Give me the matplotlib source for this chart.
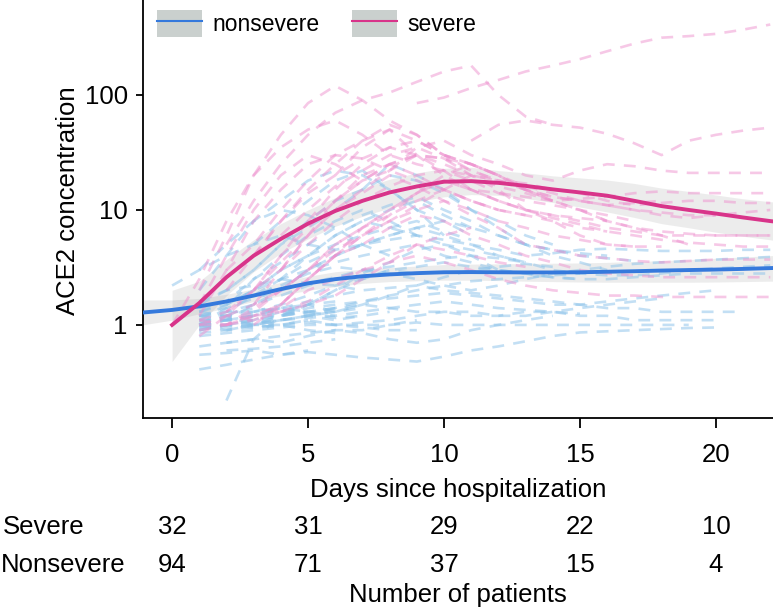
import numpy as np
import matplotlib
matplotlib.use('Agg')
import matplotlib.pyplot as plt
import matplotlib.transforms as mtransforms
from matplotlib.patches import Rectangle
from matplotlib.lines import Line2D

# individual patients: first day, then one value per day
severe_starts = [9, 2, 1, 11, 0, 1, 2, 1, 3, 1, 1, 2, 3, 1, 2, 4, 2, 1, 3, 2,
                 1, 4, 3, 5, 1, 3, 6, 2, 4]
severe_values = [
    [85, 95, 115, 135, 160, 180, 205, 240, 280, 315, 325, 340, 370, 410],
    [5, 12, 25, 45, 70, 90, 105, 130, 160, 180, 100, 65, 55],
    [2, 6, 20, 45, 85, 120, 90, 60, 45, 30, 25, 20],
    [40, 55, 60, 55, 52, 46, 38, 30, 40, 45, 49, 52],
    [1.0, 2.5, 8, 20, 35, 50, 60, 45, 30, 25, 22, 20, 18, 17, 15, 14, 12, 11, 11.5, 12, 12, 11.5, 11.5],
    [1.2, 3, 8, 15, 25, 30, 28, 22, 35, 40, 30, 25, 20, 18, 22, 25, 24, 22, 21, 21, 21, 21],
    [3, 5, 10, 18, 30, 40, 50, 30, 20, 15, 12, 10, 9, 8, 7, 6.5, 6, 6, 6, 6, 6],
    [0.8, 1.2, 2, 4, 8, 12, 18, 25, 30, 22, 15, 14, 13, 12, 12.5, 13, 14, 14.5, 14, 14, 14, 14],
    [1.5, 3, 6, 10, 15, 22, 30, 28, 20, 15, 10, 8, 6, 5, 4.8, 4.8],
    [1.0, 1.0, 1.3, 2, 3, 4.5, 6, 8, 10, 12, 9, 7, 5, 4.5, 4, 3.8, 3.6, 3.5, 3.6, 3.7, 3.7, 3.7],
    [1.1, 1.0, 1.2, 1.5, 2.5, 4, 5, 7, 9, 8, 6, 5, 4, 3.5, 3, 2.8, 2.7, 2.6, 2.6, 2.6, 2.6, 2.6],
    [1.0, 1.1, 1.4, 2, 2.5, 3, 3.5, 4, 3.5, 3, 2.5, 2.2, 2, 1.9, 1.8, 1.8, 1.75, 1.75, 1.75, 1.75, 1.75],
    [4, 8, 15, 25, 40, 55, 45, 30, 25, 20, 15, 12, 10, 8, 7, 6.5, 6.2, 6.0, 6.0, 6.0],
    [1.5, 4, 10, 20, 30, 25, 18, 25, 30, 28, 25, 20, 16, 14, 12, 11, 10, 9, 8.5, 9],
    [1.3, 2, 3, 5, 8, 12, 16, 20, 22, 18, 14, 12, 11, 10, 9, 8],
    [3, 6, 12, 20, 25, 20, 15, 12, 10, 9, 8, 7, 6.5],
    [1.0, 1.2, 1.5, 2.5, 4, 6, 9, 14, 20, 25, 20, 15, 12],
    [1.0, 1.2, 1.1, 1.3, 1.6, 2.2, 3, 4, 5, 4.5, 4, 3.5, 3.2],
    [2, 4, 7, 12, 18, 22, 18, 15, 12, 10, 9],
    [1.2, 1.5, 2, 3, 5, 7, 10, 14, 18, 15, 12, 10, 9, 8.5, 8],
    [0.9, 1.0, 1.4, 2, 3, 5, 7, 9, 12, 15, 12, 10],
    [6, 10, 16, 22, 30, 35, 28, 22, 18, 15, 13, 12, 11, 11.5, 12],
    [1.0, 1.5, 2.5, 4, 6, 8, 11, 15, 20, 18, 15],
    [8, 15, 25, 35, 30, 25, 20, 16, 14, 12],
    [1.1, 1.3, 2, 3.5, 6, 10, 14, 20, 16, 12, 10, 8, 7, 6, 5.5, 5, 4.8],
    [1.2, 1.3, 1.5, 1.8, 2.5, 3.5, 5, 6, 7],
    [20, 35, 50, 40, 30, 25, 20, 15, 12, 10, 8, 7, 6, 5],
    [2, 4, 8, 14, 20, 28, 35, 40, 30, 22, 18, 15, 13, 12, 11, 10, 9.5, 9, 9, 9.5, 10],
    [1.5, 2.5, 4, 7, 10, 14, 18, 15, 12, 10, 8.5, 7.5, 6.5, 6, 5.5, 5.2, 5, 4.8, 4.8],
]

nonsevere_starts = [2, 1, 1, 1, 1, 1, 1, 1, 1, 1, 1, 1, 0, 1, 1, 1, 1, 2, 1, 1,
                    1, 2, 1, 3, 1, 2, 1, 1, 2, 3, 1, 1, 2, 1, 4, 1, 1, 2, 1, 1,
                    1, 2, 1, 1, 2, 3, 1, 1, 1, 2]
nonsevere_values = [
    [0.22, 0.75, 1.2, 1.5, 1.3, 1.4],
    [0.41, 0.45, 0.5, 0.55, 0.6],
    [0.55, 0.57, 0.6, 0.55, 0.58, 0.55, 0.52, 0.5, 0.48, 0.53, 0.6, 0.65, 0.72, 0.8, 0.86, 0.88, 0.9, 0.92, 0.94, 0.95],
    [0.65, 0.7, 0.75, 0.7, 0.8, 0.9, 0.85, 0.75, 0.7, 0.75, 0.9, 1.0, 1.1, 1.2],
    [0.9, 1.0, 0.95, 1.0, 1.05, 1.0, 1.0, 1.0, 1.05, 1.0, 1.0, 1.0, 1.0, 1.0, 1.0, 1.0, 1.0, 1.0, 1.0],
    [1.0, 1.1, 1.2, 1.3, 1.2, 1.4, 1.5, 1.4, 1.3, 1.3, 1.2, 1.2, 1.3, 1.3, 1.2, 1.2, 1.1, 1.1, 1.1, 1.1],
    [1.2, 1.3, 1.5, 1.8, 2.2, 2.5, 3, 2.8, 2.5, 2.2, 2, 2.2, 2.5, 2.8, 3, 3.2, 3.4, 3.5, 3.6, 3.7, 3.8, 3.9],
    [1.3, 1.5, 2, 2.5, 3, 3.5, 4, 4.5, 5, 4, 3.5, 3, 2.8, 2.6, 2.5, 2.5, 2.6, 2.7, 2.8, 2.8, 2.8, 2.8],
    [1.0, 1.1, 1.5, 2, 3, 4, 5, 6, 7, 6, 5, 4.5, 4, 4.2, 4.5, 4.6, 4.5, 4.4, 4.4, 4.4, 4.5, 4.5],
    [0.9, 1.0, 1.1, 1.2, 1.4, 1.5, 1.6, 1.7, 1.8, 1.9, 1.8, 1.7, 1.6, 1.5, 1.5, 1.4, 1.4, 1.3, 1.3, 1.3, 1.3],
    [1.5, 2, 3, 5, 8, 12, 15, 20, 18, 14, 10, 8, 6, 5],
    [2, 4, 8, 12, 18, 22, 20, 15, 10, 8, 6],
    [2.2, 3, 4, 5, 6, 5, 4.5],
    [1.0, 1.0, 1.1, 1.0, 1.1],
    [1.1, 1.2, 1.1, 1.2, 1.3, 1.3],
    [0.95, 1.0, 1.05, 1.1, 1.2, 1.3, 1.5],
    [1.0, 0.9, 1.0, 1.2, 1.5, 2, 2.5, 3, 2.8],
    [1.0, 1.1, 1.3, 1.5, 2, 2.8, 3.5, 4.5, 5, 4.5, 4, 3.5],
    [1.2, 1.2, 1.4, 1.3, 1.5, 1.6],
    [1.4, 1.6, 1.8, 2.2, 2.8, 3.2, 3],
    [0.8, 0.85, 0.9, 0.95, 1.0, 1.0, 0.95, 0.9, 0.9],
    [1.2, 1.5, 2.5, 4, 6, 8, 10, 12, 9, 7],
    [1.6, 2, 2.2, 2.5, 2.3, 2.2, 2.0],
    [1.3, 1.5, 1.8, 2.2, 2.5, 3, 3.2, 3.5, 3.2, 3, 2.8, 2.6, 2.5],
    [1.0, 1.2, 1.0, 1.1, 1.2, 1.1, 1.2],
    [0.9, 1.0, 1.0, 1.1, 1.0, 1.05, 1.1, 1.2, 1.3, 1.3, 1.2, 1.2, 1.3, 1.4, 1.5, 1.6, 1.7],
    [1.3, 1.2, 1.3, 1.4, 1.3],
    [3, 5, 8, 10, 9, 7, 5, 4],
    [2, 3, 5, 7, 10, 15, 25, 20, 15, 10, 7, 5, 4, 3.5, 3],
    [5, 8, 12, 18, 22, 15, 10, 6],
    [1.0, 1.3, 1.8, 2.5, 3.5, 4.5, 5, 5.5, 6, 5.5, 5, 4, 3.5, 3, 2.8, 2.7, 2.7, 2.8, 3, 3.1, 3.2, 3.3],
    [1.1, 1.1, 1.2, 1.2, 1.3, 1.4, 1.6, 1.8, 2, 2.2, 2.4, 2.5, 2.6, 2.7, 2.8],
    [0.7, 0.75, 0.8, 0.85, 0.9, 0.9, 1.0, 1.1],
    [0.85, 0.9, 0.95, 1.0, 0.9, 0.85],
    [2, 3, 4, 5, 6, 7, 8, 7, 6, 5, 4.5, 4, 3.8, 3.6],
    [1.2, 1.4, 1.7, 2, 2.3, 2.6, 3, 3.2, 3.5, 3.8, 4, 3.8, 3.5],
    [1.0, 1.0, 1.2, 1.4, 1.6, 1.8, 2, 2.1, 2.2, 2.0, 1.9, 1.8, 1.7, 1.6, 1.5, 1.6, 1.7, 1.8, 1.9, 2.0],
    [1.5, 2, 3, 4, 6, 8, 7, 6],
    [1.05, 1.15, 1.25, 1.35, 1.25, 1.15, 1.2, 1.3],
    [0.95, 0.95, 1.0, 1.1, 1.15, 1.2, 1.3, 1.4, 1.5, 1.6, 1.5, 1.4, 1.35, 1.3, 1.25],
    [1.3, 1.6, 2.5, 3.5, 5, 7, 9, 11, 13, 10, 8, 6, 5, 4.5, 4.2, 4],
    [1.1, 1.2, 1.4, 1.3, 1.2],
    [1.0, 1.1, 1.0, 0.95],
    [1.2, 1.1, 1.2],
    [1.3, 1.3, 1.4, 1.5],
    [1.0, 1.1, 1.2, 1.3, 1.5, 1.8, 2.2, 2.6, 3, 3.2, 3.4, 3.2],
    [1.1, 1.5, 2, 3, 4, 5, 6, 7, 8, 6.5, 5.5],
    [0.9, 1.0, 1.0, 1.2, 1.3, 1.4],
    [1.0, 1.4, 2.5, 4, 6, 8, 10, 8, 6, 5, 4, 3],
    [0.6, 0.62, 0.65, 0.7, 0.75],
]

# smoothed group curves with their confidence bands
blue_days = [-1.1, 0, 1, 2, 3, 4, 5, 6, 7, 8, 9, 10, 11, 12, 13, 14, 15, 16, 17, 18, 19, 20, 21, 22, 22.2]
blue_fit = [1.28, 1.35, 1.45, 1.6, 1.8, 2.05, 2.3, 2.5, 2.65, 2.75, 2.82, 2.87, 2.88, 2.87, 2.86,
            2.86, 2.87, 2.9, 2.93, 2.97, 3.0, 3.03, 3.07, 3.12, 3.13]
blue_lo = [1.0, 1.1, 1.25, 1.4, 1.6, 1.8, 2.0, 2.15, 2.3, 2.38, 2.42, 2.45, 2.45, 2.43, 2.4,
           2.38, 2.36, 2.35, 2.35, 2.35, 2.35, 2.36, 2.38, 2.4, 2.4]
blue_hi = [1.65, 1.65, 1.7, 1.85, 2.05, 2.35, 2.65, 2.9, 3.05, 3.15, 3.25, 3.35, 3.38, 3.4, 3.42,
           3.44, 3.46, 3.5, 3.56, 3.62, 3.7, 3.8, 3.9, 4.0, 4.02]

pink_days = [0, 1, 2, 3, 4, 5, 6, 7, 8, 9, 10, 11, 12, 13, 14, 15, 16, 17, 18, 19, 20, 21, 22, 22.2]
pink_fit = [1.0, 1.55, 2.6, 4.0, 5.6, 7.6, 9.8, 12.0, 14.2, 16.0, 17.6, 17.8, 17.2, 16.2, 15.1,
            14.2, 13.3, 12.0, 10.8, 10.0, 9.3, 8.6, 8.0, 7.9]
pink_lo = [0.48, 1.0, 1.8, 2.9, 4.2, 5.6, 7.2, 8.8, 10.4, 11.8, 13.0, 13.6, 13.4, 12.6, 11.6,
           10.6, 9.6, 8.6, 7.6, 7.0, 6.4, 5.9, 5.5, 5.4]
pink_hi = [2.0, 2.4, 3.7, 5.5, 7.6, 10.0, 12.8, 15.5, 18.5, 21.0, 23.0, 23.5, 22.0, 21.0, 19.8,
           19.0, 18.2, 17.0, 15.5, 14.5, 13.5, 12.5, 11.8, 11.7]

table_days = [0, 5, 10, 15, 20]
n_severe = [32, 31, 29, 22, 10]
n_nonsevere = [94, 71, 37, 15, 4]

plt.rcParams['font.family'] = ['Liberation Sans', 'DejaVu Sans']

fig = plt.figure(figsize=(7.73, 6.10), dpi=100)
ax = fig.add_axes([143 / 773, 1 - 418 / 610, 1 - 143 / 773, 418 / 610])

pink_dash = '#ee92cf'
blue_dash = '#8cc3ea'
dash = (0, (4.5, 3.5))

ax.fill_between(blue_days, blue_lo, blue_hi, color='#9a9a9a', alpha=0.18, lw=0, zorder=1)
ax.fill_between(pink_days, pink_lo, pink_hi, color='#9a9a9a', alpha=0.18, lw=0, zorder=1)

for s, v in zip(nonsevere_starts, nonsevere_values):
    ax.plot(s + np.arange(len(v)), v, color=blue_dash, ls=dash, lw=1.9, alpha=0.52, zorder=2)
for s, v in zip(severe_starts, severe_values):
    ax.plot(s + np.arange(len(v)), v, color=pink_dash, ls=dash, lw=1.9, alpha=0.5, zorder=2)

ax.plot(blue_days, blue_fit, color='#3579dc', lw=2.8, zorder=3)
ax.plot(pink_days, pink_fit, color='#d8348a', lw=2.8, zorder=3)

ax.set_yscale('log')
ax.set_xlim(-1.07, 22.1)
ax.set_ylim(0.155, 670)
ax.set_yticks([1, 10, 100])
ax.set_yticklabels(['1', '10', '100'])
ax.yaxis.set_minor_locator(matplotlib.ticker.NullLocator())
ax.set_xticks(table_days)
ax.tick_params(axis='both', labelsize=18.5, width=1.3, length=7, direction='out')
ax.tick_params(axis='y', length=5, pad=6)
ax.tick_params(axis='x', pad=11)
for side in ['top', 'right']:
    ax.spines[side].set_visible(False)
for side in ['left', 'bottom']:
    ax.spines[side].set_linewidth(1.3)

ax.set_ylabel('ACE2 concentration', fontsize=18.5)
ax.yaxis.set_label_coords(-0.1, 0.52)
ax.set_xlabel('Days since hospitalization', fontsize=18.5, labelpad=8)

# legend keys: grey band with the curve on top
key_bg = '#cad0ce'
h_non = (Rectangle((0, 0), 1, 1, facecolor=key_bg, edgecolor='none'),
         Line2D([], [], color='#3579dc', lw=1.5))
h_sev = (Rectangle((0, 0), 1, 1, facecolor=key_bg, edgecolor='none'),
         Line2D([], [], color='#d8348a', lw=1.5))
fig.legend([h_non, h_sev], ['nonsevere', 'severe'], loc='upper left',
           bbox_to_anchor=(157 / 773, 1 - 10 / 610), ncol=2, frameon=False,
           fontsize=16.5, handlelength=1.95, handleheight=1.45, handletextpad=0.45,
           columnspacing=1.45, borderpad=0, borderaxespad=0)

# number of patients table
trans = mtransforms.blended_transform_factory(ax.transData, fig.transFigure)
row_y = [1 - 527 / 610, 1 - 565 / 610]
fig.text(3 / 773, row_y[0], 'Severe', fontsize=18.5, va='center', ha='left')
fig.text(1 / 773, row_y[1], 'Nonsevere', fontsize=18.5, va='center', ha='left')
for d, a, b in zip(table_days, n_severe, n_nonsevere):
    ax.text(d, row_y[0], str(a), transform=trans, fontsize=18.5, va='center', ha='center')
    ax.text(d, row_y[1], str(b), transform=trans, fontsize=18.5, va='center', ha='center')
ax.text(np.mean(ax.get_xlim()), 1 - 595 / 610, 'Number of patients', transform=trans,
        fontsize=18.5, va='center', ha='center')

fig.savefig('out.png', dpi=100)
